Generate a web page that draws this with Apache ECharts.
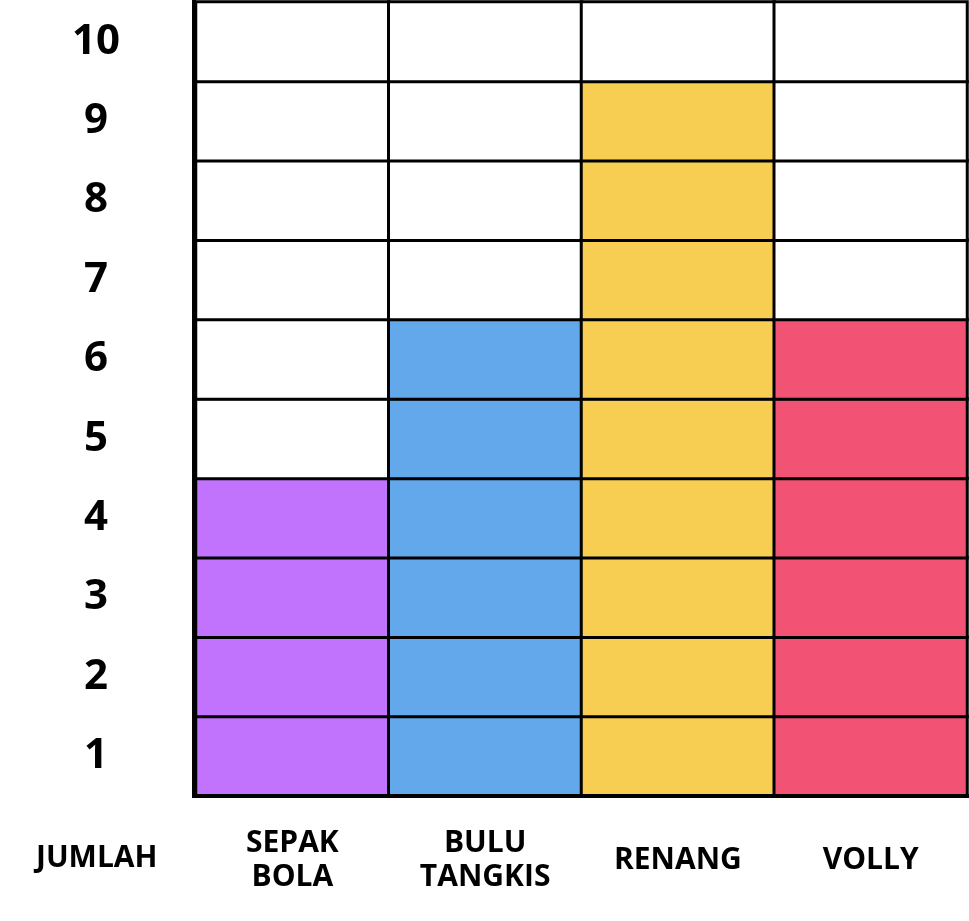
<!DOCTYPE html>
<html>
<head>
<meta charset="utf-8">
<script src="https://cdn.jsdelivr.net/npm/echarts@6/dist/echarts.min.js"></script>
<style>html,body{margin:0;padding:0;background:#fff;}#c{width:969px;height:921px;}</style>
</head>
<body>
<div id="c"></div>
<script>
var categories = ['SEPAK\nBOLA', 'BULU\nTANGKIS', 'RENANG', 'VOLLY'];
var values = [4, 6, 9, 6];
var colors = ['#C273FE', '#62A8EB', '#F8CE52', '#F25374'];
var yTicks = ['1', '2', '3', '4', '5', '6', '7', '8', '9', '10'];
var axisTitle = 'JUMLAH';

var FONT = '"Open Sans", "DejaVu Sans", sans-serif';
var cells = [];
for (var i = 0; i < categories.length; i++) {
  for (var r = 0; r < yTicks.length; r++) {
    var filled = (r + 1) <= values[i];
    cells.push({value: [i, r, filled ? 1 : 0], itemStyle: {color: filled ? colors[i] : '#ffffff'}});
  }
}

var chart = echarts.init(document.getElementById('c'));
chart.setOption({
  backgroundColor: '#ffffff',
  animation: false,
  grid: {left: 196, right: 2, top: 2, bottom: 125},
  xAxis: {
    type: 'category', data: categories,
    axisLine: {show: false}, axisTick: {show: false}, splitLine: {show: false},
    axisLabel: {margin: 64, verticalAlign: 'middle', fontFamily: FONT, fontWeight: 'bold', fontSize: 30, lineHeight: 34, color: '#000'}
  },
  yAxis: {
    type: 'category', data: yTicks,
    axisLine: {show: false}, axisTick: {show: false}, splitLine: {show: false},
    axisLabel: {margin: 100, align: 'center', padding: [6, 0, 0, 0], fontFamily: FONT, fontWeight: 'bold', fontSize: 42, color: '#000'}
  },
  series: [{
    type: 'heatmap',
    data: cells,
    itemStyle: {borderColor: '#000', borderWidth: 3},
    emphasis: {disabled: true},
    label: {show: false}
  }],
  graphic: [
    {type: 'text', left: 96 - 60, top: 843, style: {text: axisTitle, width: 120, align: 'center', font: 'bold 30px ' + FONT, fill: '#000'}},
    {type: 'line', shape: {x1: 194, y1: 0, x2: 194, y2: 797}, style: {stroke: '#000', lineWidth: 4}, z: 100},
    {type: 'line', shape: {x1: 192, y1: 796, x2: 969, y2: 796}, style: {stroke: '#000', lineWidth: 4}, z: 100}
  ]
});
</script>
</body>
</html>
